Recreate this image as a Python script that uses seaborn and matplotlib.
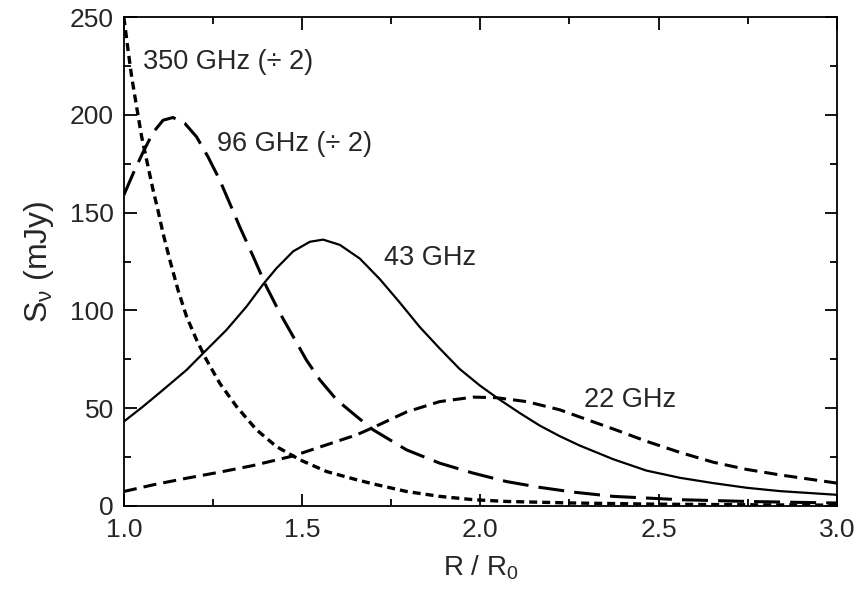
import numpy as np
import pandas as pd
import seaborn as sns
import matplotlib.pyplot as plt

# Curves (R / R0, flux in mJy)
r_350 = [1.0, 1.012, 1.022, 1.036, 1.050, 1.068, 1.082, 1.096, 1.110, 1.129, 1.152,
         1.176, 1.204, 1.232, 1.269, 1.316, 1.372, 1.428, 1.494, 1.569, 1.653,
         1.699, 1.793, 1.886, 1.980, 2.073, 2.260, 2.5, 2.75, 3.0]
s_350 = [250, 233, 219.5, 204, 188.8, 173.5, 161.6, 151, 139.4, 125.8, 110.4,
         96.8, 84.9, 74.6, 62.7, 50.8, 38.9, 30.3, 23.5, 17.5, 13.3,
         11.2, 7.3, 4.8, 3.1, 2.2, 1.4, 0.8, 0.5, 0.3]

r_96 = [1.0, 1.026, 1.054, 1.082, 1.110, 1.138, 1.171, 1.204, 1.236, 1.269, 1.297,
        1.325, 1.363, 1.400, 1.438, 1.475, 1.512, 1.550, 1.597, 1.653, 1.699,
        1.793, 1.886, 1.980, 2.073, 2.167, 2.260, 2.373, 2.560, 2.747, 3.0]
s_96 = [159, 170, 181, 191, 197.3, 198.7, 195.7, 188.8, 178.6, 166.7, 154.8,
        142.8, 127.5, 112.1, 98.5, 86.6, 74.6, 64.4, 54.2, 45.7, 38.9,
        28.6, 21.8, 16.7, 12.4, 9.4, 7.0, 4.8, 3.1, 2.2, 1.4]

r_43 = [1.0, 1.054, 1.110, 1.176, 1.232, 1.288, 1.344, 1.391, 1.428, 1.475, 1.522,
        1.559, 1.606, 1.662, 1.718, 1.774, 1.830, 1.886, 1.942, 1.999, 2.055,
        2.111, 2.167, 2.223, 2.279, 2.373, 2.466, 2.560, 2.653, 2.747, 2.840, 3.0]
s_43 = [43.1, 50.8, 59.3, 69.5, 79.8, 90, 101.9, 113.4, 121.5, 130.2, 135.1,
        136.2, 133.5, 126.5, 116, 104, 91.5, 80.5, 70, 61.5, 54.2,
        47.4, 41, 35.6, 30.8, 23.8, 18, 14.3, 11.6, 9.2, 7.5, 5.6]

r_22 = [1.0, 1.082, 1.176, 1.269, 1.363, 1.475, 1.569, 1.653, 1.699, 1.793, 1.886,
        1.980, 2.045, 2.130, 2.223, 2.316, 2.373, 2.466, 2.560, 2.653, 2.747,
        2.840, 3.0]
s_22 = [7.3, 10.7, 14.1, 17.2, 20.6, 25.5, 31.2, 36.3, 40, 48, 53.3,
        55.6, 55.3, 53.3, 49.1, 43, 39.3, 33, 27.3, 22.3, 18.6,
        15.8, 11.6]

labels = ["350 GHz (\u00f7 2)", "96 GHz (\u00f7 2)", "43 GHz", "22 GHz"]
label_pos = [(1.053, 227), (1.262, 185), (1.73, 127), (2.29, 54)]

sns.set_style("ticks")
plt.rcParams['font.family'] = ['Liberation Sans', 'DejaVu Sans']
plt.rcParams['mathtext.fontset'] = 'custom'
plt.rcParams['mathtext.rm'] = 'Liberation Sans'
plt.rcParams['mathtext.it'] = 'Liberation Sans'
plt.rcParams['mathtext.default'] = 'regular'

fig, ax = plt.subplots(figsize=(8.6, 5.95), dpi=100)
fig.subplots_adjust(left=0.144, right=0.973, top=0.971, bottom=0.15)

sns.lineplot(x=r_350, y=s_350, ax=ax, color="black", lw=2.4,
             linestyle=(0, (2.4, 1.5)))
sns.lineplot(x=r_96, y=s_96, ax=ax, color="black", lw=2.2,
             linestyle=(0, (8.5, 3.3)))
sns.lineplot(x=r_43, y=s_43, ax=ax, color="black", lw=1.6)
sns.lineplot(x=r_22, y=s_22, ax=ax, color="black", lw=2.2,
             linestyle=(0, (4.3, 2.3)))

for txt, (x, y) in zip(labels, label_pos):
    ax.text(x, y, txt, fontsize=19.5, va="center", ha="left")

ax.set_xlim(1.0, 3.0)
ax.set_ylim(0, 250)
ax.set_xticks([1.0, 1.5, 2.0, 2.5, 3.0])
ax.set_xticks(np.arange(1.0, 3.01, 0.25), minor=True)
ax.set_yticks([0, 50, 100, 150, 200, 250])
ax.set_yticks(np.arange(0, 251, 25), minor=True)
ax.xaxis.set_major_formatter(plt.FormatStrFormatter("%.1f"))

ax.tick_params(which="both", direction="in", top=True, right=True,
               width=1.3, labelsize=19, color="black")
ax.tick_params(which="major", length=9)
ax.tick_params(which="minor", length=5)
ax.tick_params(axis="x", pad=9)
ax.tick_params(axis="y", pad=7)
for sp in ax.spines.values():
    sp.set_linewidth(1.3)
    sp.set_color("black")

ax.set_xlabel("R / R$_0$", fontsize=20, labelpad=8)
ax.set_ylabel("S$_\\nu$ (mJy)", fontsize=23, labelpad=10)

fig.savefig("out.png", dpi=100)
